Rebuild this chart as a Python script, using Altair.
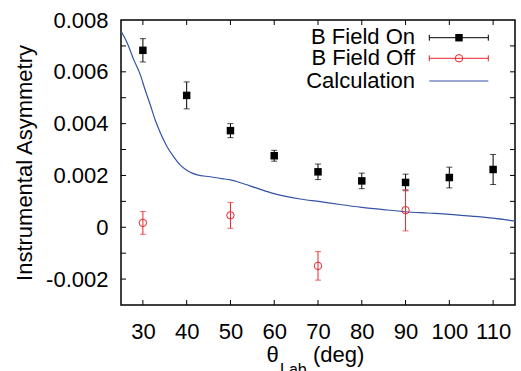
import altair as alt
import pandas as pd

# ---- data ----
theta_on = [30, 40, 50, 60, 70, 80, 90, 100, 110]
asym_on = [0.00683, 0.00509, 0.00373, 0.00276, 0.00214, 0.00179, 0.00173, 0.00192, 0.00223]
err_on = [0.00045, 0.00052, 0.00027, 0.00021, 0.00030, 0.00030, 0.00032, 0.00040, 0.00058]

theta_off = [30, 50, 70, 90]
asym_off = [0.00017, 0.00046, -0.00149, 0.00066]
err_off = [0.00044, 0.00050, 0.00055, 0.00080]

calc_theta = [25, 26.4, 27.9, 29.4, 30.5, 31.7, 32.8, 34, 35.5, 37, 38.5, 40.1, 42.4, 45.4,
              48, 50, 53, 56, 59.1, 62.1, 65.9, 70.5, 75, 80, 85, 90, 95, 100, 105, 110, 115]
calc_asym = [0.00757, 0.00712, 0.00647, 0.00589, 0.00531, 0.00472, 0.00415, 0.00364, 0.00312,
             0.00273, 0.00241, 0.00219, 0.00202, 0.00195, 0.00188, 0.00183, 0.00168, 0.00151,
             0.00134, 0.00121, 0.00109, 0.00099, 0.00088, 0.00077, 0.00068, 0.00060, 0.00055,
             0.00050, 0.00043, 0.00035, 0.00024]

x_ticks = [30, 40, 50, 60, 70, 80, 90, 100, 110]
y_ticks = [-0.002, -0.001, 0.0, 0.001, 0.002, 0.003, 0.004, 0.005, 0.006, 0.007]
y_labels = [-0.002, 0.0, 0.002, 0.004, 0.006, 0.008]
legend_names = ["B Field On", "B Field Off", "Calculation"]
y_title = "Instrumental Asymmetry"
x_title_parts = ["θ", "Lab", "(deg)"]

FONT = "Liberation Sans"
RED = "#e8262b"
BLUE = "#3553a5"
W, H = 394, 285

on = pd.DataFrame({"x": theta_on, "y": asym_on, "e": err_on})
on["lo"] = on["y"] - on["e"]
on["hi"] = on["y"] + on["e"]
off = pd.DataFrame({"x": theta_off, "y": asym_off, "e": err_off})
off["lo"] = off["y"] - off["e"]
off["hi"] = off["y"] + off["e"]
calc = pd.DataFrame({"x": calc_theta, "y": calc_asym})

xscale = alt.Scale(domain=[25, 115], nice=False, zero=False)
yscale = alt.Scale(domain=[-0.003, 0.008], nice=False, zero=False)
xaxis = alt.Axis(values=x_ticks, title=None, ticks=False, domain=False, grid=False,
                 labelFontSize=22, labelFont=FONT, labelColor="black", labelPadding=16,
                 labelFlush=False)
yaxis = alt.Axis(values=y_labels, title=y_title, ticks=False, domain=False, grid=False,
                 labelFontSize=22, labelFont=FONT, labelColor="black", labelPadding=13,
                 labelFlush=False,
                 labelExpr="datum.value == 0 ? '0' : (datum.value < 0 ? '-' + format(-datum.value, '.3f') : format(datum.value, '.3f'))",
                 titleFontSize=22, titleFont=FONT, titleFontWeight="normal", titleColor="black",
                 titleX=-90, titleBaseline="alphabetic")


def X(f):
    return alt.X(f, type="quantitative", scale=xscale, axis=xaxis)


def Y(f):
    return alt.Y(f, type="quantitative", scale=yscale, axis=yaxis)


layers = []

# calculation curve
layers.append(alt.Chart(calc).mark_line(color=BLUE, strokeWidth=1.2, clip=True, interpolate="monotone")
              .encode(x=X("x"), y=Y("y")))

# B field on
layers.append(alt.Chart(on).mark_rule(color="black", strokeWidth=1).encode(x=X("x"), y=Y("lo"), y2="hi"))
layers.append(alt.Chart(on).mark_tick(orient="horizontal", size=6, thickness=1, color="black").encode(x=X("x"), y=Y("lo")))
layers.append(alt.Chart(on).mark_tick(orient="horizontal", size=6, thickness=1, color="black").encode(x=X("x"), y=Y("hi")))
layers.append(alt.Chart(on).mark_square(color="black", size=56, opacity=1).encode(x=X("x"), y=Y("y")))

# B field off
layers.append(alt.Chart(off).mark_rule(color=RED, strokeWidth=1).encode(x=X("x"), y=Y("lo"), y2="hi"))
layers.append(alt.Chart(off).mark_tick(orient="horizontal", size=6, thickness=1, color=RED).encode(x=X("x"), y=Y("lo")))
layers.append(alt.Chart(off).mark_tick(orient="horizontal", size=6, thickness=1, color=RED).encode(x=X("x"), y=Y("hi")))
layers.append(alt.Chart(off).mark_point(shape="circle", filled=False, color=RED, size=55, strokeWidth=1, opacity=1).encode(x=X("x"), y=Y("y")))

# inward ticks (mirrored)
xt = pd.DataFrame({"t": x_ticks})
yt = pd.DataFrame({"t": y_ticks})
layers.append(alt.Chart(xt).mark_rule(color="black").encode(x=X("t"), y=alt.value(H), y2=alt.value(H - 5)))
layers.append(alt.Chart(xt).mark_rule(color="black").encode(x=X("t"), y=alt.value(0), y2=alt.value(5)))
layers.append(alt.Chart(yt).mark_rule(color="black").encode(y=Y("t"), x=alt.value(0), x2=alt.value(5)))
layers.append(alt.Chart(yt).mark_rule(color="black").encode(y=Y("t"), x=alt.value(W - 5), x2=alt.value(W)))

# legend
leg_y = [17.7, 38.3, 61.0]
text_y = [23.5, 45.3, 67.8]
colors = ["black", RED, BLUE]
for i, name in enumerate(legend_names):
    d = pd.DataFrame({"label": [name]})
    base = alt.Chart(d)
    layers.append(base.mark_text(align="right", baseline="alphabetic", font=FONT, fontSize=22, color="black")
                  .encode(text="label:N", x=alt.value(294), y=alt.value(text_y[i])))
    layers.append(base.mark_rule(color=colors[i], strokeWidth=1.2 if i == 2 else 1)
                  .encode(x=alt.value(308.3), x2=alt.value(367.3), y=alt.value(leg_y[i])))
    if i < 2:
        layers.append(base.mark_rule(color=colors[i]).encode(x=alt.value(308.3), y=alt.value(leg_y[i] - 3), y2=alt.value(leg_y[i] + 3)))
        layers.append(base.mark_rule(color=colors[i]).encode(x=alt.value(367.3), y=alt.value(leg_y[i] - 3), y2=alt.value(leg_y[i] + 3)))
    if i == 0:
        layers.append(base.mark_square(color="black", size=56, opacity=1).encode(x=alt.value(338), y=alt.value(leg_y[i])))
    if i == 1:
        layers.append(base.mark_point(shape="circle", filled=False, color=RED, size=55, strokeWidth=1, opacity=1)
                      .encode(x=alt.value(338), y=alt.value(leg_y[i])))

# x-axis title with subscript
t = pd.DataFrame({"a": [x_title_parts[0]], "b": [x_title_parts[1]], "c": [x_title_parts[2]]})
tb = alt.Chart(t)
layers.append(tb.mark_text(align="left", baseline="alphabetic", font=FONT, fontSize=22, color="black")
              .encode(text="a:N", x=alt.value(145.5), y=alt.value(342)))
layers.append(tb.mark_text(align="left", baseline="alphabetic", font=FONT, fontSize=16, color="black")
              .encode(text="b:N", x=alt.value(159), y=alt.value(355)))
layers.append(tb.mark_text(align="left", baseline="alphabetic", font=FONT, fontSize=22, color="black")
              .encode(text="c:N", x=alt.value(192), y=alt.value(342)))

chart = alt.layer(*layers).properties(
    width=W, height=H,
    autosize=alt.AutoSizeParams(type="none"),
    padding={"left": 121, "top": 20, "right": 6, "bottom": 66},
    background="white",
).configure_view(stroke="black", strokeWidth=1.5)

chart.save("out.html", embed_options={"renderer": "svg", "actions": False})
